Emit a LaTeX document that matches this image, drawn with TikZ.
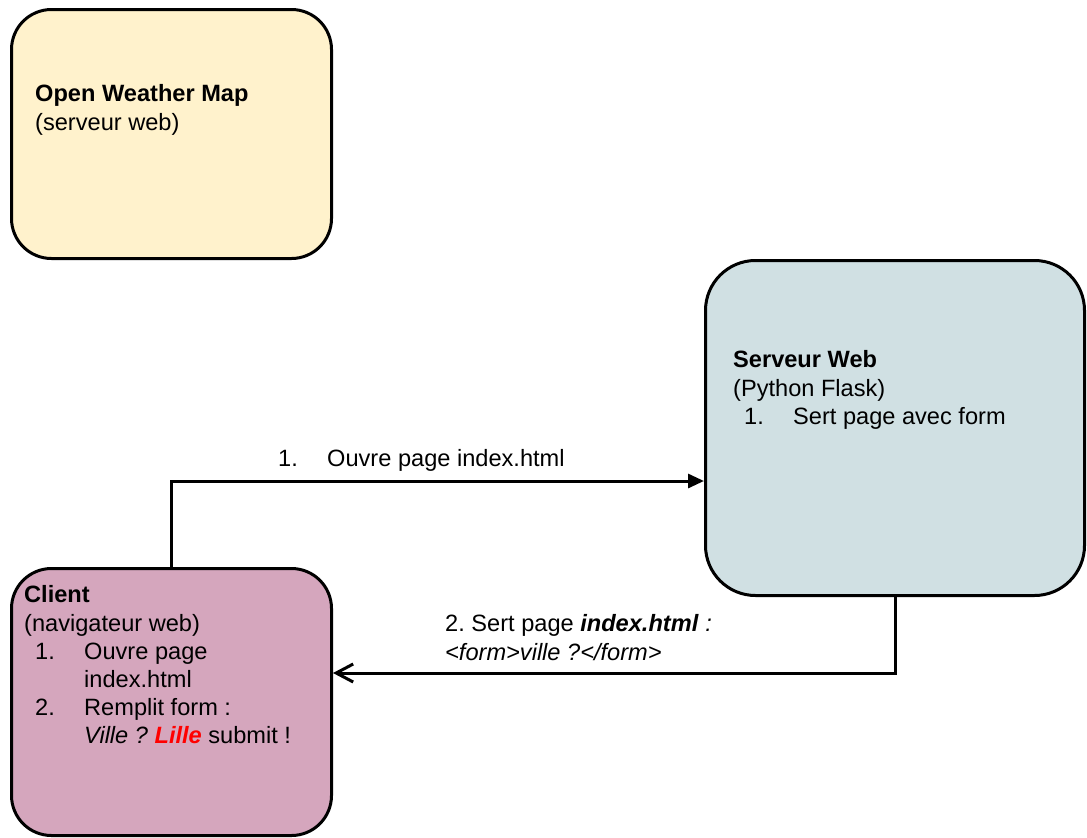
\documentclass[tikz,border=0pt]{standalone}
\usepackage{fontspec}
\setmainfont{Liberation Sans}
\usetikzlibrary{arrows.meta}
\definecolor{owmyellow}{HTML}{FFF2CC}
\definecolor{flaskblue}{HTML}{D0E0E3}
\definecolor{clientpink}{HTML}{D5A6BD}
\newcommand{\itm}[1]{\hspace*{11pt}\makebox[49pt][l]{#1}}
\frenchspacing
\begin{document}
\begin{tikzpicture}[x=1pt,y=-1pt,
    box/.style={draw=black,line width=3pt,rounded corners=40pt,inner sep=0pt},
    txt/.style={anchor=north west,inner sep=0pt,align=left,font=\fontsize{23.6}{28.2}\selectfont},
    link/.style={line width=3pt}]
        \useasboundingbox (0,0) rectangle (1087,838);

        \node[box,fill=owmyellow,minimum width=320pt,minimum height=249pt] (owm) at (171.5,134) {};
        \node[box,fill=flaskblue,rounded corners=50pt,minimum width=379pt,minimum height=335pt] (server) at (895,428) {};
        \node[box,fill=clientpink,minimum width=320pt,minimum height=267pt] (client) at (171.5,702) {};

        \node[txt] (owmtxt) at (35,84.5) {\textbf{Open Weather Map}\\(serveur web)};
        \node[txt] (servertxt) at (733,350.5) {\textbf{Serveur Web}\\(Python Flask)\\\itm{1.}Sert page avec form};
        \node[txt] (clienttxt) at (24,585.5) {\textbf{Client}\\(navigateur web)\\\itm{1.}Ouvre page\\\hspace*{60pt}index.html\\\itm{2.}Remplit form :\\\hspace*{60pt}\textit{Ville ?} \textcolor{red}{\textbf{\textit{Lille}}} submit !};

        \coordinate (up1) at (0,481);
        \coordinate (low2) at (0,673);
        \draw[link,-{Triangle[length=16pt,width=14pt]}] (client.north) |- (server.west |- up1);
        \draw[link,-{Straight Barb[length=17pt,width=18pt]}] (server.south) |- (client.east |- low2);

        \node[txt] (lbl1) at (278,449.5) {\makebox[49pt][l]{1.}Ouvre page index.html};
        \node[txt] (lbl2) at (445,614.5) {2.\ Sert page \textbf{\textit{index.html}} \textit{:}\\\textit{<form>ville ?</form>}};
\end{tikzpicture}
\end{document}
